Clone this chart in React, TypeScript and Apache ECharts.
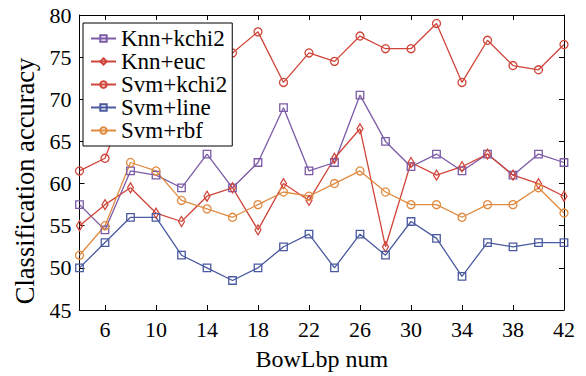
import React, { useEffect, useRef } from "react";
import * as echarts from "echarts";

const xValues = [4, 6, 8, 10, 12, 14, 16, 18, 20, 22, 24, 26, 28, 30, 32, 34, 36, 38, 40, 42];
const xTicks = [6, 10, 14, 18, 22, 26, 30, 34, 38, 42];

const knnKchi2 = [57.5, 54.5, 61.5, 61, 59.5, 63.5, 59.5, 62.5, 69, 61.5, 62.5, 70.5, 65, 62, 63.5, 61.5, 63.5, 61, 63.5, 62.5];
const knnEuc = [55, 57.5, 59.5, 56.5, 55.5, 58.5, 59.5, 54.5, 60, 58, 63, 66.5, 52.5, 62.5, 61, 62, 63.5, 61, 60, 58.5];
const svmKchi2 = [61.5, 63, 71, 74, 73, 75, 75.5, 78, 72, 75.5, 74.5, 77.5, 76, 76, 79, 72, 77, 74, 73.5, 76.5];
const svmLine = [50, 53, 56, 56, 51.5, 50, 48.5, 50, 52.5, 54, 50, 54, 51.5, 55.5, 53.5, 49, 53, 52.5, 53, 53];
const svmRbf = [51.5, 55, 62.5, 61.5, 58, 57, 56, 57.5, 59, 58.5, 60, 61.5, 59, 57.5, 57.5, 56, 57.5, 57.5, 59.5, 56.5];

const seriesNames = ["Knn+kchi2", "Knn+euc", "Svm+kchi2", "Svm+line", "Svm+rbf"];
const seriesData = [knnKchi2, knnEuc, svmKchi2, svmLine, svmRbf];
const colors = ["#7b5aa6", "#d0453a", "#d0453a", "#4a5aa0", "#e08a40"];
const symbols = ["rect", "diamond", "circle", "rect", "circle"];
const symbolSizes: any[] = [7.5, [6, 10], 8, 7.5, 8];

const FONT = "'Liberation Serif', 'Times New Roman', serif";

export default function App() {
  const ref = useRef<HTMLDivElement>(null);
  useEffect(() => {
    if (!ref.current) return;
    const chart = echarts.init(ref.current, null, { renderer: "svg" });
    const axisLine = { show: true, lineStyle: { color: "#000", width: 1 } };
    const tick = { show: true, inside: true, length: 5, lineStyle: { color: "#000", width: 1 } };
    chart.setOption({
      animation: false,
      backgroundColor: "#fff",
      textStyle: { fontFamily: FONT },
      grid: { left: 79.5, right: 22, top: 15, bottom: 62 },
      xAxis: [
        {
          type: "value",
          min: 4,
          max: 42,
          name: "BowLbp num",
          nameLocation: "middle",
          nameGap: 37,
          nameTextStyle: { fontFamily: FONT, fontSize: 24, color: "#000" },
          axisLine,
          axisTick: { ...tick, customValues: xTicks },
          axisLabel: { customValues: xTicks, fontFamily: FONT, fontSize: 22, color: "#000", margin: 8 },
          splitLine: { show: false },
        },
        {
          type: "value",
          position: "top",
          min: 4,
          max: 42,
          axisLine,
          axisTick: { ...tick, customValues: xTicks },
          axisLabel: { show: false, customValues: xTicks },
          splitLine: { show: false },
        },
      ],
      yAxis: [
        {
          type: "value",
          min: 45,
          max: 80,
          interval: 5,
          name: "Classification accuracy",
          nameLocation: "middle",
          nameGap: 40,
          nameTextStyle: { fontFamily: FONT, fontSize: 26.5, color: "#000", padding: [0, 37, 0, 0] },
          axisLine,
          axisTick: tick,
          axisLabel: { fontFamily: FONT, fontSize: 22, color: "#000", margin: 8 },
          splitLine: { show: false },
        },
        {
          type: "value",
          position: "right",
          min: 45,
          max: 80,
          interval: 5,
          axisLine,
          axisTick: tick,
          axisLabel: { show: false },
          splitLine: { show: false },
        },
      ],
      legend: {
        orient: "vertical",
        left: 83,
        top: 23,
        backgroundColor: "#fff",
        borderColor: "#000",
        borderWidth: 1,
        borderRadius: 0,
        padding: [4, 5, 4, 7],
        itemGap: 0,
        itemWidth: 25,
        itemHeight: 8,
        textStyle: { fontFamily: FONT, fontSize: 23, color: "#000", lineHeight: 18.6 },
        data: seriesNames,
      },
      series: seriesNames.map((name, i) => ({
        name,
        type: "line",
        data: xValues.map((x, j) => [x, seriesData[i][j]]),
        symbol: symbols[i],
        symbolSize: symbolSizes[i],
        showAllSymbol: true,
        lineStyle: { color: colors[i], width: 1.3 },
        itemStyle: { color: "none", borderColor: colors[i], borderWidth: 1.3 },
        emphasis: { disabled: true },
      })),
    });
    return () => chart.dispose();
  }, []);
  return (
    <div
      ref={ref}
      style={{ position: "absolute", left: 0, top: 0, width: 586, height: 376 }}
    />
  );
}
